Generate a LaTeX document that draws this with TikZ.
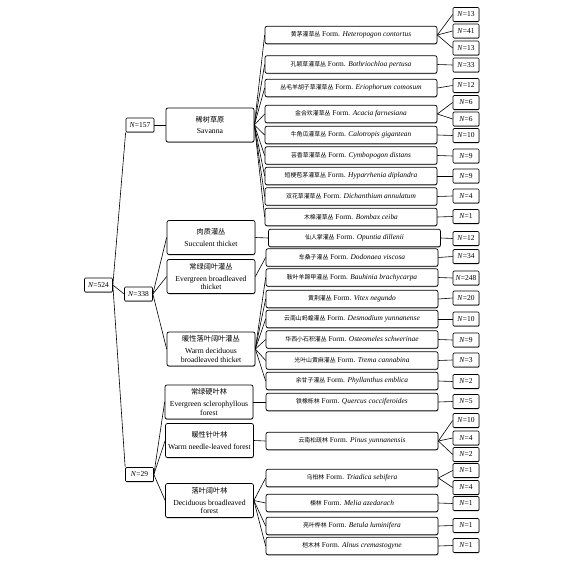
\documentclass[tikz,border=0pt]{standalone}
\usepackage{fontspec}
\setmainfont{Liberation Serif}
\newfontfamily\cjk{Noto Sans CJK SC}
\usetikzlibrary{shadows}
\newcommand\zhs[1]{{\cjk\fontsize{5.9}{7}\selectfont #1}}
\newcommand\zhc[1]{{\cjk\fontsize{7.2}{8.5}\selectfont #1}}
\begin{document}
\begin{tikzpicture}[x=1pt,y=-1pt,
  box/.style={draw, fill=white, rounded corners=2pt, line width=0.7pt, inner sep=0pt, align=center,
    drop shadow={shadow xshift=0.3pt, shadow yshift=-0.9pt, fill=black!45, opacity=0.8}},
  cat/.style={box, minimum width=88pt, minimum height=34pt, font=\fontsize{7.7}{8.3}\selectfont},
  sp/.style={box, minimum width=172pt, minimum height=17.5pt, font=\fontsize{7.4}{9}\selectfont},
  nb/.style={box, rounded corners=1pt, minimum width=26pt, minimum height=14pt, font=\fontsize{7.5}{9}\selectfont},
  nl/.style={box, rounded corners=1pt, minimum width=28pt, minimum height=14pt, font=\fontsize{7.5}{9}\selectfont},
  con/.style={line width=0.6pt}]
\useasboundingbox (0,0) rectangle (576,562);

% level 1
\node[nl] (r) at (98.5,285) {\textit{N}=524};
\node[nl] (a) at (140,125) {\textit{N}=157};
\node[nl] (b) at (138.5,294) {\textit{N}=338};
\node[nl] (c) at (139.5,474.5) {\textit{N}=29};

% level 2
\node[cat] (k1) at (210,125) {\zhc{稀树草原}\\[3.5pt]Savanna};
\node[cat] (k2) at (211,237.5) {\zhc{肉质灌丛}\\[3.5pt]Succulent thicket};
\node[cat] (k3) at (211,276.5) {\zhc{常绿阔叶灌丛}\\[3.5pt]Evergreen broadleaved\\thicket};
\node[cat] (k4) at (211,349) {\zhc{暖性落叶阔叶灌丛}\\[3.5pt]Warm deciduous\\broadleaved thicket};
\node[cat] (k5) at (209,402) {\zhc{常绿硬叶林}\\[3.5pt]Evergreen sclerophyllous\\forest};
\node[cat] (k6) at (209.5,440.5) {\zhc{暖性针叶林}\\[3.5pt]Warm needle-leaved forest};
\node[cat] (k7) at (209.5,500.5) {\zhc{落叶阔叶林}\\[3.5pt]Deciduous broadleaved\\forest};

% level 3
\node[sp] (s1) at (351,35) {\zhs{黄茅灌草丛} Form. \textit{Heteropogon contortus}};
\node[sp] (s2) at (351,64.5) {\zhs{孔颖草灌草丛} Form. \textit{Bothriochloa pertusa}};
\node[sp] (s3) at (351,88) {\zhs{丛毛羊胡子草灌草丛} Form. \textit{Eriophorum comosum}};
\node[sp] (s4) at (351,114) {\zhs{金合欢灌草丛} Form. \textit{Acacia farnesiana}};
\node[sp] (s5) at (351,135) {\zhs{牛角瓜灌草丛} Form. \textit{Calotropis gigantean}};
\node[sp] (s6) at (351,155.5) {\zhs{芸香草灌草丛} Form. \textit{Cymbopogon distans}};
\node[sp] (s7) at (351,176) {\zhs{短梗苞茅灌草丛} Form. \textit{Hyparrhenia diplandra}};
\node[sp] (s8) at (351,196.5) {\zhs{双花草灌草丛} Form. \textit{Dichanthium annulatum}};
\node[sp] (s9) at (351,217) {\zhs{木棉灌草丛} Form. \textit{Bombax ceiba}};
\node[sp] (s10) at (354.5,238) {\zhs{仙人掌灌丛} Form. \textit{Opuntia dillenii}};
\node[sp] (s11) at (352,257.5) {\zhs{车桑子灌丛} Form. \textit{Dodonaea viscosa}};
\node[sp] (s12) at (352,277.5) {\zhs{鞍叶羊蹄甲灌丛} Form. \textit{Bauhinia brachycarpa}};
\node[sp] (s13) at (352,299) {\zhs{黄荆灌丛} Form. \textit{Vitex negundo}};
\node[sp] (s14) at (352,319) {\zhs{云南山蚂蝗灌丛} Form. \textit{Desmodium yunnanense}};
\node[sp] (s15) at (352,339.5) {\zhs{华西小石积灌丛} Form. \textit{Osteomeles schwerinae}};
\node[sp] (s16) at (352,360.5) {\zhs{光叶山黄麻灌丛} Form. \textit{Trema cannabina}};
\node[sp] (s17) at (352,381) {\zhs{余甘子灌丛} Form. \textit{Phyllanthus emblica}};
\node[sp] (s18) at (352,402) {\zhs{铁橡栎林} Form. \textit{Quercus cocciferoides}};
\node[sp] (s19) at (352,441) {\zhs{云南松疏林} Form. \textit{Pinus yunnanensis}};
\node[sp] (s20) at (352,478) {\zhs{乌桕林} Form. \textit{Triadica sebifera}};
\node[sp] (s21) at (352,503) {\zhs{楝林} Form. \textit{Melia azedarach}};
\node[sp] (s22) at (352,526) {\zhs{亮叶桦林} Form. \textit{Betula luminifera}};
\node[sp] (s23) at (352,546) {\zhs{桤木林} Form. \textit{Alnus cremastogyne}};

% level 4
\foreach \i/\y/\v in {1/14.5/13, 2/31/41, 3/48/13, 4/65/33, 5/85.5/12, 6/102.5/6, 7/119/6,
  8/135.5/10, 9/156/9, 10/176/9, 11/196/4, 12/216.5/1, 13/238.5/12, 14/256.5/34,
  15/278/248, 16/298/20, 17/319/10, 18/340/9, 19/360/3, 20/381.5/2, 21/401.5/5,
  22/420.5/10, 23/438/4, 24/454.5/2, 25/470.5/1, 26/487.5/4, 27/503.5/1, 28/525.5/1, 29/545.5/1}
  \node[nb] (n\i) at (466,\y) {\textit{N}=\v};

% connectors
\begin{scope}[on background layer/.style={}]
\draw[con] (r.east) -- (a.south west);
\draw[con] (r.east) -- (b.west);
\draw[con] (r.east) -- (c.north west);
\draw[con] (a.east) -- (k1.west);
\foreach \k in {2,3,4} \draw[con] (b.east) -- (k\k.west);
\foreach \k in {5,6,7} \draw[con] (c.east) -- (k\k.west);
\foreach \s in {1,...,9} \draw[con] (k1.east) -- (s\s.west);
\draw[con] (k2.east) -- (s10.west);
\draw[con] (k3.east) -- (s11.west);
\foreach \s in {12,...,17} \draw[con] (k4.east) -- (s\s.west);
\draw[con] (k5.east) -- (s18.west);
\draw[con] (k6.east) -- (s19.west);
\foreach \s in {20,...,23} \draw[con] (k7.east) -- (s\s.west);
\foreach \s/\n in {1/1, 1/2, 1/3, 2/4, 3/5, 4/6, 4/7, 5/8, 6/9, 7/10, 8/11, 9/12,
  10/13, 11/14, 12/15, 13/16, 14/17, 15/18, 16/19, 17/20, 18/21,
  19/22, 19/23, 19/24, 20/25, 20/26, 21/27, 22/28, 23/29}
  \draw[con] (s\s.east) -- (n\n.west);
\end{scope}
\end{tikzpicture}
\end{document}
